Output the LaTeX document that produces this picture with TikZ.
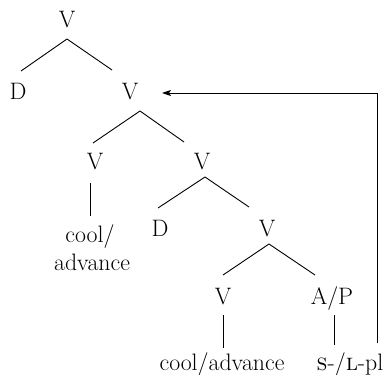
\documentclass[tikz,border=0pt]{standalone}
\usetikzlibrary{arrows.meta}
\begin{document}
\begin{tikzpicture}[x=1pt,y=-1pt,
  lbl/.style={anchor=base,inner sep=0pt,font=\fontsize{23.8}{28}\selectfont},
  edge/.style={line width=0.9pt},
  mv/.style={line width=0.9pt,-{Stealth[length=9pt,width=6pt,inset=2pt]}}]
\useasboundingbox (0,0) rectangle (387,374);
\node[lbl] (v1) at (67,28) {V};
\node[lbl] (d1) at (18,100) {D};
\node[lbl] (v2) at (130,100) {V};
\node[lbl] (v3) at (95,169) {V};
\node[lbl] (v4) at (202,169) {V};
\node[lbl] (c1) at (90,242) {cool/};
\node[lbl] (c2) at (92,270) {advance};
\node[lbl] (d2) at (160,236) {D};
\node[lbl] (v5) at (267,236) {V};
\node[lbl] (v6) at (223,304) {V};
\node[lbl] (ap) at (332,304) {A/P};
\node[lbl] (w1) at (222,370) {cool/advance};
\node[lbl] (w2) at (350,370) {\textsc{s}-/\textsc{l}-pl};
\draw[edge] ([yshift=-11pt]v1.base) -- ([xshift=3pt,yshift=29pt]d1.base);
\draw[edge] ([yshift=-11pt]v1.base) -- ([xshift=-18pt,yshift=30pt]v2.base);
\draw[edge] ([xshift=10pt,yshift=-11pt]v2.base) -- ([xshift=-2pt,yshift=26pt]v3.base);
\draw[edge] ([xshift=10pt,yshift=-11pt]v2.base) -- ([xshift=-18pt,yshift=27pt]v4.base);
\draw[edge] ([xshift=-5pt,yshift=-14pt]v3.base) -- ([yshift=26pt]c1.base);
\draw[edge] ([xshift=3pt,yshift=-8pt]v4.base) -- ([xshift=-2pt,yshift=28pt]d2.base);
\draw[edge] ([xshift=3pt,yshift=-8pt]v4.base) -- ([xshift=-18pt,yshift=29pt]v5.base);
\draw[edge] ([xshift=2pt,yshift=-8pt]v5.base) -- ([yshift=29pt]v6.base);
\draw[edge] ([xshift=2pt,yshift=-8pt]v5.base) -- ([xshift=-17pt,yshift=29pt]ap.base);
\draw[edge] ([yshift=-11pt]v6.base) -- ([xshift=1pt,yshift=22pt]w1.base);
\draw[edge] ([xshift=2pt,yshift=-11pt]ap.base) -- ([xshift=-16pt,yshift=25pt]w2.base);
\draw[mv] ([xshift=27pt,yshift=27pt]w2.base) |- ([xshift=32pt,yshift=7pt]v2.base);
\end{tikzpicture}
\end{document}
